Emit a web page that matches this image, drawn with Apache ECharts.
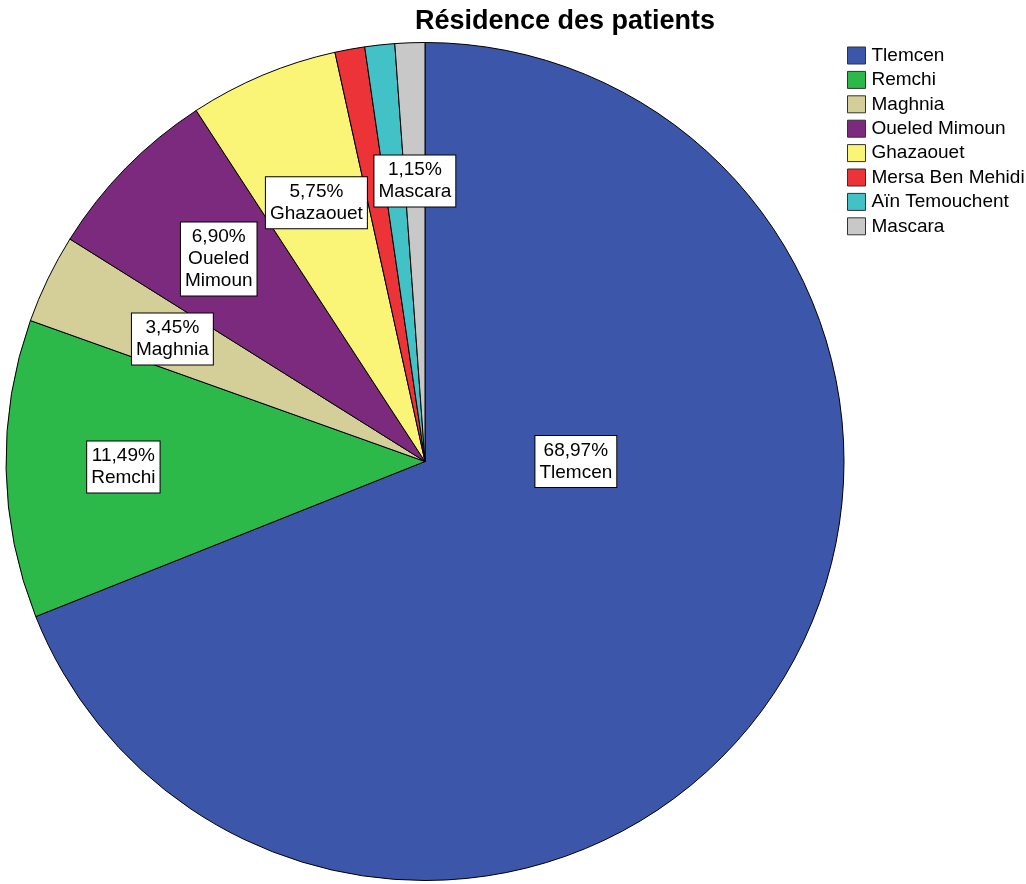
<!DOCTYPE html>
<html><head><meta charset="utf-8">
<script src="https://cdn.jsdelivr.net/npm/echarts@6/dist/echarts.min.js"></script>
<style>html,body{margin:0;padding:0;background:#fff}#c{width:1026px;height:884px}</style>
</head><body><div id="c"></div>
<script>
// ---- data ----
const categories = ['Tlemcen','Remchi','Maghnia','Oueled Mimoun','Ghazaouet','Mersa Ben Mehidi','Aïn Temouchent','Mascara'];
const counts = [60, 10, 3, 6, 5, 1, 1, 1];
const labelNames = ['Tlemcen','Remchi','Maghnia','Oueled\nMimoun','Ghazaouet','Mersa Ben Mehidi','Aïn Temouchent','Mascara'];
const showLabel = [true, true, true, true, true, false, false, true];

// ---- style ----
const colors = ['#3C57A9','#2DB84A','#D4CE98','#7B2A7D','#FAF577','#EC3338','#42C1C7','#C8C8C8'];
const labelRadiusFrac = [0.36, 0.72, 0.67, 0.69, 0.67, 0.67, 0.67, 0.67];
const labelAngleOverride = [0, null, null, null, null, null, null, null];
const CX = 425, CY = 461.5, R = 419;
const FONT = '"Liberation Sans", Arial, sans-serif';

const total = counts.reduce((a, b) => a + b, 0);
function midAngleDeg(i) {
  let cum = 0;
  for (let k = 0; k < i; k++) cum += counts[k];
  return 90 - 360 * (cum + counts[i] / 2) / total;
}
function pct(i) { return (counts[i] / total * 100).toFixed(2).replace('.', ',') + '%'; }

const chart = echarts.init(document.getElementById('c'), null, {renderer: 'canvas'});
chart.setOption({
  animation: false,
  backgroundColor: '#fff',
  title: {
    text: 'Résidence des patients',
    left: 560, top: 3, textAlign: 'center',
    textStyle: {fontFamily: FONT, fontSize: 27, fontWeight: 'bold', color: '#000'}
  },
  legend: {
    data: categories,
    orient: 'vertical',
    left: 847, top: 46,
    padding: 0,
    itemWidth: 18, itemHeight: 17, itemGap: 5.4,
    icon: 'rect',
    selectedMode: false,
    itemStyle: {borderColor: '#333', borderWidth: 1},
    textStyle: {fontFamily: FONT, fontSize: 19, lineHeight: 19, color: '#000', padding: [0, 0, 0, 1]}
  },
  series: [{
    type: 'pie',
    center: [CX, CY],
    radius: R,
    startAngle: 90,
    clockwise: true,
    avoidLabelOverlap: false,
    emphasis: {disabled: true},
    itemStyle: {borderColor: '#000', borderWidth: 1},
    labelLine: {show: false},
    label: {
      position: 'inside',
      fontFamily: FONT, fontSize: 19, lineHeight: 22, color: '#000',
      backgroundColor: '#fff', borderColor: '#000', borderWidth: 1,
      padding: [4, 4, 3, 4], align: 'center',
      formatter: p => pct(p.dataIndex) + '\n' + labelNames[p.dataIndex]
    },
    labelLayout: p => {
      const i = p.dataIndex;
      const ang = (labelAngleOverride[i] !== null ? labelAngleOverride[i] : midAngleDeg(i)) * Math.PI / 180;
      const rr = labelRadiusFrac[i] * R;
      return {x: CX + rr * Math.cos(ang), y: CY - rr * Math.sin(ang), align: 'center', verticalAlign: 'middle'};
    },
    data: categories.map((c, i) => ({
      name: c, value: counts[i],
      itemStyle: {color: colors[i]},
      label: {show: showLabel[i]}
    }))
  }]
});
</script></body></html>
